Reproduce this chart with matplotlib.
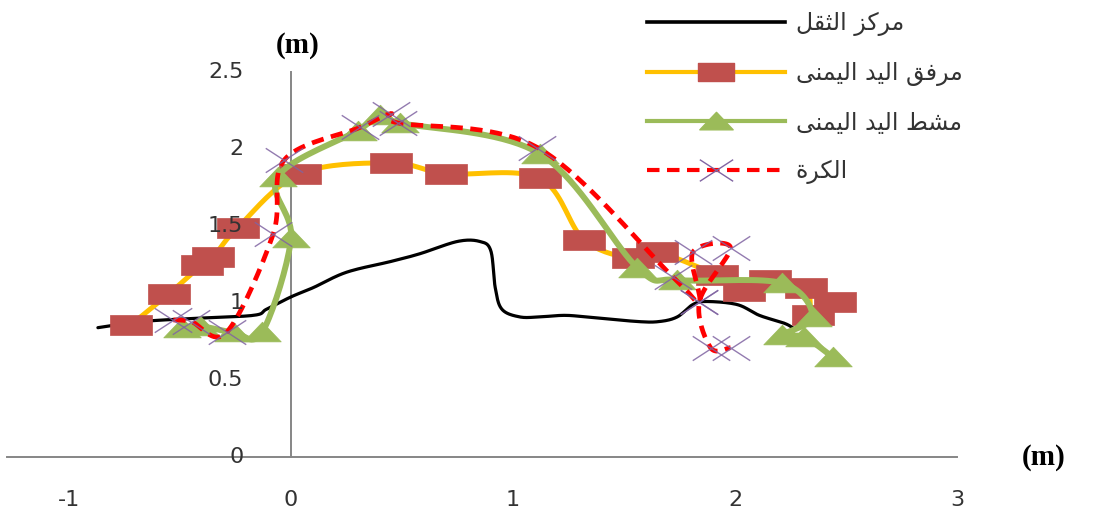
import numpy as np
import matplotlib
matplotlib.use("Agg")
import matplotlib.pyplot as plt
from matplotlib.path import Path
from matplotlib.lines import Line2D

# Centre of mass trajectory (m)
com_x = [-0.87, -0.67, -0.44, -0.17, -0.11, 0.00, 0.10, 0.25, 0.45, 0.58, 0.75, 0.85,
         0.90, 0.92, 0.95, 1.03, 1.12, 1.23, 1.33, 1.56, 1.66, 1.74, 1.81, 1.87, 2.01,
         2.11, 2.22, 2.26]
com_y = [0.84, 0.88, 0.90, 0.92, 0.96, 1.04, 1.10, 1.20, 1.27, 1.32, 1.40, 1.40,
         1.34, 1.10, 0.96, 0.91, 0.91, 0.92, 0.91, 0.88, 0.88, 0.91, 0.99, 1.01, 0.99,
         0.92, 0.87, 0.84]

# Right elbow
elbow_x = [-0.72, -0.55, -0.40, -0.35, -0.24, 0.04, 0.45, 0.70, 1.12, 1.32, 1.54, 1.65,
           1.92, 2.04, 2.16, 2.32, 2.35, 2.45]
elbow_y = [0.86, 1.06, 1.25, 1.30, 1.49, 1.84, 1.91, 1.84, 1.81, 1.41, 1.29, 1.33,
           1.18, 1.08, 1.15, 1.10, 0.92, 1.01]

# Right hand (metacarpus)
hand_x = [-0.49, -0.41, -0.26, -0.13, 0.00, -0.06, 0.30, 0.40, 0.49, 1.12, 1.56, 1.74,
          2.21, 2.35, 2.21, 2.31, 2.44]
hand_y = [0.84, 0.85, 0.81, 0.81, 1.42, 1.82, 2.12, 2.22, 2.17, 1.97, 1.23, 1.15,
          1.13, 0.91, 0.79, 0.78, 0.65]

# Ball
ball_x = [-0.53, -0.45, -0.29, -0.08, -0.03, 0.31, 0.45, 0.48, 1.11, 1.72, 1.84, 1.81,
          1.98, 1.84, 1.89, 1.98]
ball_y = [0.89, 0.88, 0.81, 1.45, 1.93, 2.14, 2.23, 2.17, 2.01, 1.17, 1.01, 1.33,
          1.36, 1.01, 0.71, 0.71]

x_ticks = [-1, 0, 1, 2, 3]
y_ticks = [0, 0.5, 1, 1.5, 2, 2.5]
x_tick_labels = ["-1", "0", "1", "2", "3"]
y_tick_labels = ["0", "0.5", "1", "1.5", "2", "2.5"]

# Arabic labels, pre-shaped into presentation forms in visual order
lbl_com = "\uFEDE\uFED8\uFE9C\uFEDF\uFE8D \uFEB0\uFEDB\uFEAE\uFEE3"            # مركز الثقل
lbl_elbow = ("\uFEF0\uFEE8\uFEE4\uFEF4\uFEDF\uFE8D \uFEAA\uFEF4\uFEDF\uFE8D "
             "\uFED6\uFED3\uFEAE\uFEE3")                                     # مرفق اليد اليمنى
lbl_hand = ("\uFEF0\uFEE8\uFEE4\uFEF4\uFEDF\uFE8D \uFEAA\uFEF4\uFEDF\uFE8D "
            "\uFEC2\uFEB8\uFEE3")                                            # مشط اليد اليمنى
lbl_ball = "\uFE93\uFEAE\uFEDC\uFEDF\uFE8D"                                   # الكرة


def smooth(xs, ys, n=20):
    """Smoothed line through the points (cubic Bezier, Catmull-Rom tangents)."""
    P = np.column_stack([xs, ys]).astype(float)
    out = [P[0]]
    t = np.linspace(0, 1, n)[1:, None]
    for i in range(len(P) - 1):
        p0 = P[i - 1] if i > 0 else P[i]
        p1, p2 = P[i], P[i + 1]
        p3 = P[i + 2] if i + 2 < len(P) else P[i + 1]
        c1 = p1 + (p2 - p0) / 6.0
        c2 = p2 - (p3 - p1) / 6.0
        seg = (1 - t) ** 3 * p1 + 3 * (1 - t) ** 2 * t * c1 + 3 * (1 - t) * t ** 2 * c2 + t ** 3 * p2
        out.extend(seg)
    out = np.array(out)
    return out[:, 0], out[:, 1]


# Flattened marker shapes
rect_marker = Path([(-1, -0.48), (1, -0.48), (1, 0.48), (-1, 0.48), (-1, -0.48)],
                   [Path.MOVETO, Path.LINETO, Path.LINETO, Path.LINETO, Path.CLOSEPOLY])
tri_marker = Path([(-1, -0.5), (1, -0.5), (0, 0.55), (-1, -0.5)],
                  [Path.MOVETO, Path.LINETO, Path.LINETO, Path.CLOSEPOLY])
x_marker = Path([(-1, -0.65), (1, 0.65), (-1, 0.65), (1, -0.65)],
                [Path.MOVETO, Path.LINETO, Path.MOVETO, Path.LINETO])

C_BLACK = "#000000"
C_ORANGE = "#FFC000"
C_SQ = "#C0504D"
C_GREEN = "#9BBB59"
C_RED = "#FF0000"
C_PURPLE = "#8064A2"
C_AXIS = "#868686"
C_TEXT = "#333333"

fig = plt.figure(figsize=(10.99, 5.16), dpi=100)
ax = fig.add_axes([0, 0, 1, 1])
ax.set_xlim(-1.311, 3.640)
ax.set_ylim(-0.383, 2.968)
ax.patch.set_alpha(0)
for s in ("top", "right"):
    ax.spines[s].set_visible(False)
ax.spines["left"].set_position(("data", 0))
ax.spines["bottom"].set_position(("data", 0))
ax.spines["left"].set_bounds(0, 2.5)
ax.spines["bottom"].set_bounds(-1.28, 3.0)
for s in ("left", "bottom"):
    ax.spines[s].set_color(C_AXIS)
    ax.spines[s].set_linewidth(1.4)
ax.set_xticks([])
ax.set_yticks([])

# Series
sx, sy = smooth(com_x, com_y)
ax.plot(sx, sy, color=C_BLACK, lw=2.3, solid_capstyle="round", zorder=3)

sx, sy = smooth(elbow_x, elbow_y)
ax.plot(sx, sy, color=C_ORANGE, lw=3.6, solid_capstyle="round", zorder=4)
ax.plot(elbow_x, elbow_y, ls="none", marker=rect_marker, ms=30, mfc=C_SQ, mec=C_SQ,
        mew=0.5, zorder=4.1)

sx, sy = smooth(hand_x, hand_y)
ax.plot(sx, sy, color=C_GREEN, lw=4.3, solid_capstyle="round", zorder=5)
ax.plot(hand_x, hand_y, ls="none", marker=tri_marker, ms=27, mfc=C_GREEN, mec=C_GREEN,
        mew=0.5, zorder=5.1)

sx, sy = smooth(ball_x, ball_y)
ax.plot(sx, sy, color=C_RED, lw=3.4, ls=(0, (2.6, 1.6)), zorder=6)
ax.plot(ball_x, ball_y, ls="none", marker=x_marker, ms=27, mfc="none", mec=C_PURPLE,
        mew=1.0, alpha=0.85, zorder=6.1)

# Tick labels
for v, t in zip(x_ticks, x_tick_labels):
    ax.text(v, -0.28, t, ha="center", va="center", fontsize=16, color=C_TEXT,
            family="DejaVu Sans", zorder=10)
for v, t in zip(y_ticks, y_tick_labels):
    ax.text(-0.215, v, t, ha="right", va="center", fontsize=16, color=C_TEXT,
            family="DejaVu Sans", zorder=10)

# Axis titles
ax.text(0.03, 2.67, "(m)", ha="center", va="center", fontsize=21, fontweight="bold",
        family="Liberation Serif", color="#000000")
ax.text(3.39, 0.0, "(m)", ha="center", va="center", fontsize=21, fontweight="bold",
        family="Liberation Serif", color="#000000")

# Legend
handles = [
    Line2D([], [], color=C_BLACK, lw=2.6),
    Line2D([], [], color=C_ORANGE, lw=3.0, marker=rect_marker, ms=26, mfc=C_SQ, mec=C_SQ),
    Line2D([], [], color=C_GREEN, lw=3.0, marker=tri_marker, ms=24, mfc=C_GREEN, mec=C_GREEN),
    Line2D([], [], color=C_RED, lw=3.0, ls=(0, (3.0, 1.8)), marker=x_marker, ms=24,
           mfc="none", mec=C_PURPLE, mew=1.0),
]
labels = [lbl_com, lbl_elbow, lbl_hand, lbl_ball]
leg = fig.legend(handles, labels, loc="upper left",
                 bbox_to_anchor=(647 / 1099, 1 - 11 / 516), frameon=False,
                 prop={"family": "DejaVu Sans", "size": 17}, numpoints=1,
                 handlelength=5.85, handletextpad=0.45, labelspacing=1.05,
                 borderpad=0, borderaxespad=0)
for txt in leg.get_texts():
    txt.set_color(C_TEXT)

fig.savefig("out.png", dpi=100)
